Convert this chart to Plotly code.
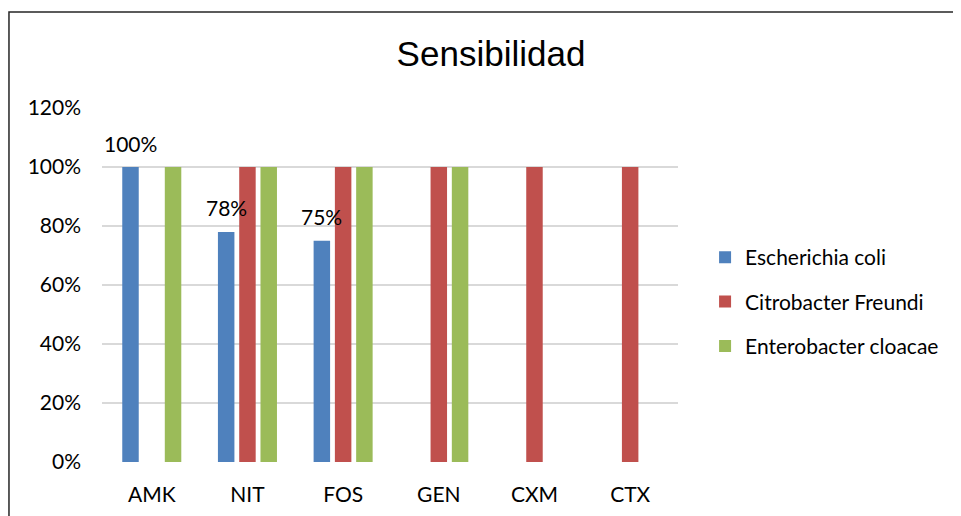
import plotly.graph_objects as go

# antibiotics and sensitivity per organism (fraction of isolates)
antibiotics = ["AMK", "NIT", "FOS", "GEN", "CXM", "CTX"]
e_coli = [1.00, 0.78, 0.75, 0, 0, 0]
citrobacter = [0, 1.00, 1.00, 1.00, 1.00, 1.00]
enterobacter = [1.00, 1.00, 1.00, 1.00, 0, 0]
e_coli_labels = ["100%", "78%", "75%", "", "", ""]

series = [
    ("Escherichia coli", e_coli, "#4f81bd"),
    ("Citrobacter Freundi", citrobacter, "#c0504d"),
    ("Enterobacter cloacae", enterobacter, "#9bbb59"),
]

body_font = "Lato, 'Open Sans', sans-serif"
bargap = 0.333

fig = go.Figure()
for name, vals, color in series:
    fig.add_trace(go.Bar(
        x=antibiotics,
        y=vals,
        name=name,
        marker=dict(color=color, line=dict(width=0)),
        legendgroup=name,
        hoverinfo="skip",
    ))

# data labels for E. coli, centred over the first bar of each group
offset = -(1 - bargap) / 3
annotations = []
for i, (v, lab) in enumerate(zip(e_coli, e_coli_labels)):
    if not lab:
        continue
    annotations.append(dict(
        x=i + offset, y=v, xref="x", yref="y",
        text=lab, showarrow=False, yanchor="middle", yshift=24,
        font=dict(family=body_font, size=21, color="#000000"),
    ))

# page body has a small margin, so the figure is laid out ~8px up/left
fig.update_layout(
    width=961,
    height=516,
    paper_bgcolor="white",
    plot_bgcolor="white",
    barmode="group",
    bargap=bargap,
    bargroupgap=0.225,
    margin=dict(l=94, r=291, t=100, b=62),
    title=dict(
        text="Sensibilidad",
        x=0.5026, xref="container", xanchor="center",
        y=0.9109, yref="container", yanchor="middle",
        font=dict(family="Liberation Sans, Arial, sans-serif", size=35, color="#000000"),
    ),
    xaxis=dict(
        showgrid=False, showline=False, zeroline=False, ticks="",
        ticklabelstandoff=18,
        tickfont=dict(family=body_font, size=21, color="#000000"),
    ),
    yaxis=dict(
        range=[0, 1.2], dtick=0.2, tickformat=".0%",
        showgrid=True, gridcolor="#d9d9d9", gridwidth=2,
        zeroline=False, showline=False, ticks="",
        ticklabelstandoff=20,
        tickfont=dict(family=body_font, size=21, color="#000000"),
    ),
    legend=dict(
        x=1.047, xanchor="left", y=0.453, yanchor="middle",
        tracegroupgap=14,
        font=dict(family=body_font, size=21, color="#000000"),
        bgcolor="rgba(0,0,0,0)",
    ),
    annotations=annotations,
    shapes=[dict(
        type="rect", xref="paper", yref="paper",
        x0=-0.1615, x1=2.0, y0=-1.0, y1=1.2712,
        line=dict(color="#262626", width=1.5),
        fillcolor="rgba(0,0,0,0)", layer="below",
    )],
    showlegend=True,
)

fig.write_html("out.html")
